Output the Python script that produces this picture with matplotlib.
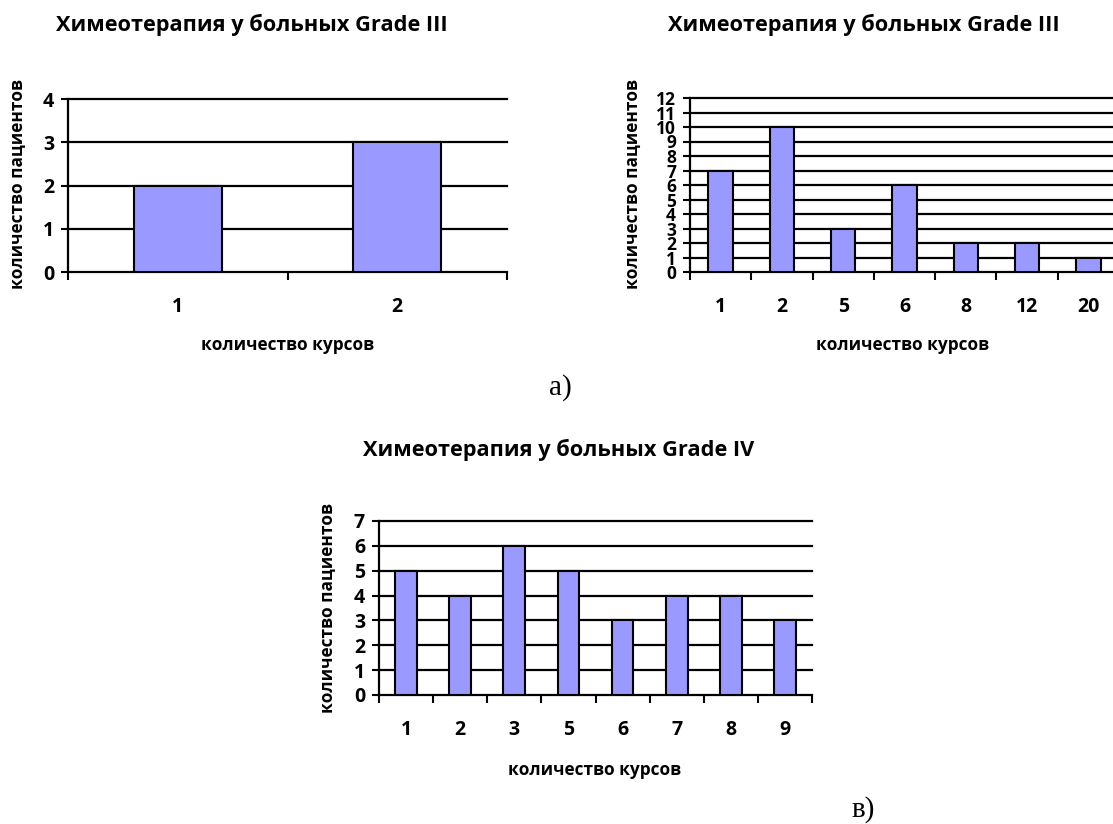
import matplotlib
matplotlib.use('Agg')
import matplotlib.pyplot as plt

# ---- data ----
cats_a1 = ['1', '2']
vals_a1 = [2, 3]
ymax_a1 = 4

cats_a2 = ['1', '2', '5', '6', '8', '12', '20']
vals_a2 = [7, 10, 3, 6, 2, 2, 1]
ymax_a2 = 12

cats_b = ['1', '2', '3', '5', '6', '7', '8', '9']
vals_b = [5, 4, 6, 5, 3, 4, 4, 3]
ymax_b = 7

title_a = 'Химеотерапия у больных Grade III'
title_b = 'Химеотерапия у больных Grade IV'
xlabel = 'количество курсов'
ylabel = 'количество пациентов'

W, H = 1113, 824
plt.rcParams['font.family'] = ['Open Sans', 'DejaVu Sans']
fig = plt.figure(figsize=(W / 100, H / 100), dpi=100)

TICK_FS = 14
TITLE_FS = 15.7
LABEL_FS = 12.4


def add_ax(l, t, r, b):
    return fig.add_axes([l / W, 1 - b / H, (r - l) / W, (b - t) / H])


def ftext(x, y, s, **kw):
    fig.text(x / W, 1 - y / H, s, ha='center', va='center', **kw)


def draw(ax, cats, vals, ymax, ytick_fs=TICK_FS):
    n = len(cats)
    x = list(range(n))
    ax.bar(x, vals, width=0.4, color='#9999FF', edgecolor='black',
           linewidth=1.5, zorder=3)
    ax.set_xlim(-0.5, n - 0.5)
    ax.set_ylim(0, ymax)
    for v in range(1, ymax + 1):
        ax.axhline(v, color='black', linewidth=1.6, zorder=1, clip_on=False)
    for s in ['top', 'right']:
        ax.spines[s].set_visible(False)
    for s in ['left', 'bottom']:
        ax.spines[s].set_linewidth(1.6)
        ax.spines[s].set_color('black')
    ax.set_yticks(range(ymax + 1))
    ax.set_yticklabels([str(v) for v in range(ymax + 1)],
                       fontsize=ytick_fs, fontweight='bold')
    ax.tick_params(axis='y', direction='out', length=5, width=1.5, pad=5)
    ax.set_xticks(x)
    ax.set_xticklabels(cats, fontsize=TICK_FS, fontweight='bold')
    ax.set_xticks([i - 0.5 for i in range(n + 1)], minor=True)
    ax.tick_params(axis='x', which='major', length=0, pad=18)
    ax.tick_params(axis='x', which='minor', direction='out', length=6, width=1.5)
    ax.patch.set_alpha(0)


# top-left
ax1 = add_ax(68, 99, 507, 272)
draw(ax1, cats_a1, vals_a1, ymax_a1)
ftext(252, 25, title_a, fontsize=TITLE_FS, fontweight='bold')
ftext(288, 345, xlabel, fontsize=LABEL_FS, fontweight='bold')
ftext(18, 184, ylabel, fontsize=LABEL_FS, fontweight='bold', rotation=90)

# top-right
ax2 = add_ax(690, 98, 1119, 272)
draw(ax2, cats_a2, vals_a2, ymax_a2, ytick_fs=12.5)
ftext(864, 25, title_a, fontsize=TITLE_FS, fontweight='bold')
ftext(903, 345, xlabel, fontsize=LABEL_FS, fontweight='bold')
ftext(633, 184, ylabel, fontsize=LABEL_FS, fontweight='bold', rotation=90)

# bottom
ax3 = add_ax(379, 521, 812, 695)
draw(ax3, cats_b, vals_b, ymax_b)
ftext(559, 450, title_b, fontsize=TITLE_FS, fontweight='bold')
ftext(595, 770, xlabel, fontsize=LABEL_FS, fontweight='bold')
ftext(328, 608, ylabel, fontsize=LABEL_FS, fontweight='bold', rotation=90)

# panel letters
ftext(560, 388, 'а)', fontsize=21, family=['Liberation Serif', 'DejaVu Serif'])
ftext(863, 810, 'в)', fontsize=21, family=['Liberation Serif', 'DejaVu Serif'])

fig.savefig('out.png', dpi=100)
